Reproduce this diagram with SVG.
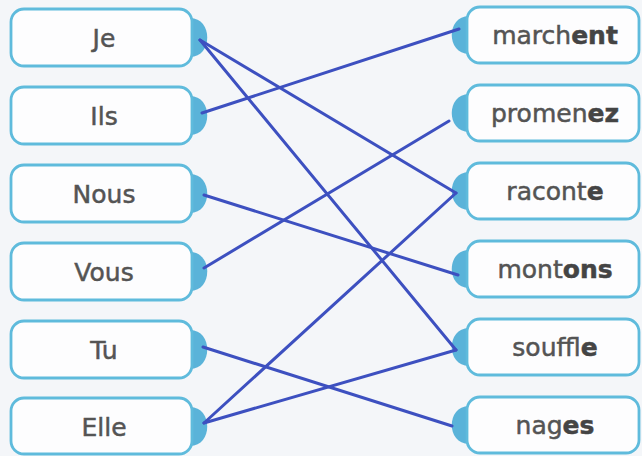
<svg xmlns="http://www.w3.org/2000/svg" width="642" height="456" viewBox="0 0 642 456">
<defs>
<style>
.box{fill:#fdfdfe;stroke:#5fbbdc;stroke-width:2.8}
.tab{fill:#5ab3d9}
.t{font-family:"DejaVu Sans","Liberation Sans",sans-serif;font-size:25px;fill:#545454;stroke:#545454;stroke-width:0.5;text-anchor:middle}
.b{font-weight:bold;fill:#444;stroke:#444}
.ln{stroke:#3d50c0;stroke-width:3;stroke-linecap:round;fill:none}
</style>
</defs>
<rect width="642" height="456" fill="#f4f6f9"/>
<g id="left-je">
<path class="tab" d="M190,18 C213,18 213,57 190,57 Z"/>
<rect class="box" x="11" y="9" width="181" height="57" rx="13"/>
<text class="t" x="104" y="47">Je</text>
</g>
<g id="left-ils">
<path class="tab" d="M190,96 C213,96 213,135 190,135 Z"/>
<rect class="box" x="11" y="87" width="181" height="57" rx="13"/>
<text class="t" x="104" y="125">Ils</text>
</g>
<g id="left-nous">
<path class="tab" d="M190,174 C213,174 213,213 190,213 Z"/>
<rect class="box" x="11" y="165" width="181" height="57" rx="13"/>
<text class="t" x="104" y="203">Nous</text>
</g>
<g id="left-vous">
<path class="tab" d="M190,252 C213,252 213,291 190,291 Z"/>
<rect class="box" x="11" y="243" width="181" height="57" rx="13"/>
<text class="t" x="104" y="281">Vous</text>
</g>
<g id="left-tu">
<path class="tab" d="M190,330 C213,330 213,369 190,369 Z"/>
<rect class="box" x="11" y="321" width="181" height="57" rx="13"/>
<text class="t" x="104" y="359">Tu</text>
</g>
<g id="left-elle">
<path class="tab" d="M190,407 C213,407 213,446 190,446 Z"/>
<rect class="box" x="11" y="398" width="181" height="56" rx="13"/>
<text class="t" x="104" y="436">Elle</text>
</g>
<g id="right-marchent">
<path class="tab" d="M469,16 C446,16 446,54 469,54 Z"/>
<rect class="box" x="467" y="7" width="172" height="56" rx="13"/>
<text class="t" x="555" y="44">march<tspan class="b">ent</tspan></text>
</g>
<g id="right-promenez">
<path class="tab" d="M469,94 C446,94 446,132 469,132 Z"/>
<rect class="box" x="467" y="85" width="172" height="56" rx="13"/>
<text class="t" x="555" y="122">promen<tspan class="b">ez</tspan></text>
</g>
<g id="right-raconte">
<path class="tab" d="M469,172 C446,172 446,210 469,210 Z"/>
<rect class="box" x="467" y="163" width="172" height="56" rx="13"/>
<text class="t" x="555" y="200">racont<tspan class="b">e</tspan></text>
</g>
<g id="right-montons">
<path class="tab" d="M469,250 C446,250 446,288 469,288 Z"/>
<rect class="box" x="467" y="241" width="172" height="56" rx="13"/>
<text class="t" x="555" y="278">mont<tspan class="b">ons</tspan></text>
</g>
<g id="right-souffle">
<path class="tab" d="M469,328 C446,328 446,366 469,366 Z"/>
<rect class="box" x="467" y="319" width="172" height="56" rx="13"/>
<text class="t" x="555" y="356">souffl<tspan class="b">e</tspan></text>
</g>
<g id="right-nages">
<path class="tab" d="M469,406 C446,406 446,444 469,444 Z"/>
<rect class="box" x="467" y="397" width="172" height="56" rx="13"/>
<text class="t" x="555" y="434">nag<tspan class="b">es</tspan></text>
</g>
<g id="connectors">
<line class="ln" x1="200" y1="40" x2="456" y2="193"/>
<line class="ln" x1="200" y1="40" x2="456" y2="350"/>
<line class="ln" x1="202" y1="113" x2="459" y2="29"/>
<line class="ln" x1="204" y1="195" x2="458" y2="275"/>
<line class="ln" x1="204" y1="268" x2="449" y2="121"/>
<line class="ln" x1="203" y1="347" x2="452" y2="426"/>
<line class="ln" x1="204" y1="423" x2="456" y2="193"/>
<line class="ln" x1="204" y1="423" x2="456" y2="350"/>
</g>
</svg>
